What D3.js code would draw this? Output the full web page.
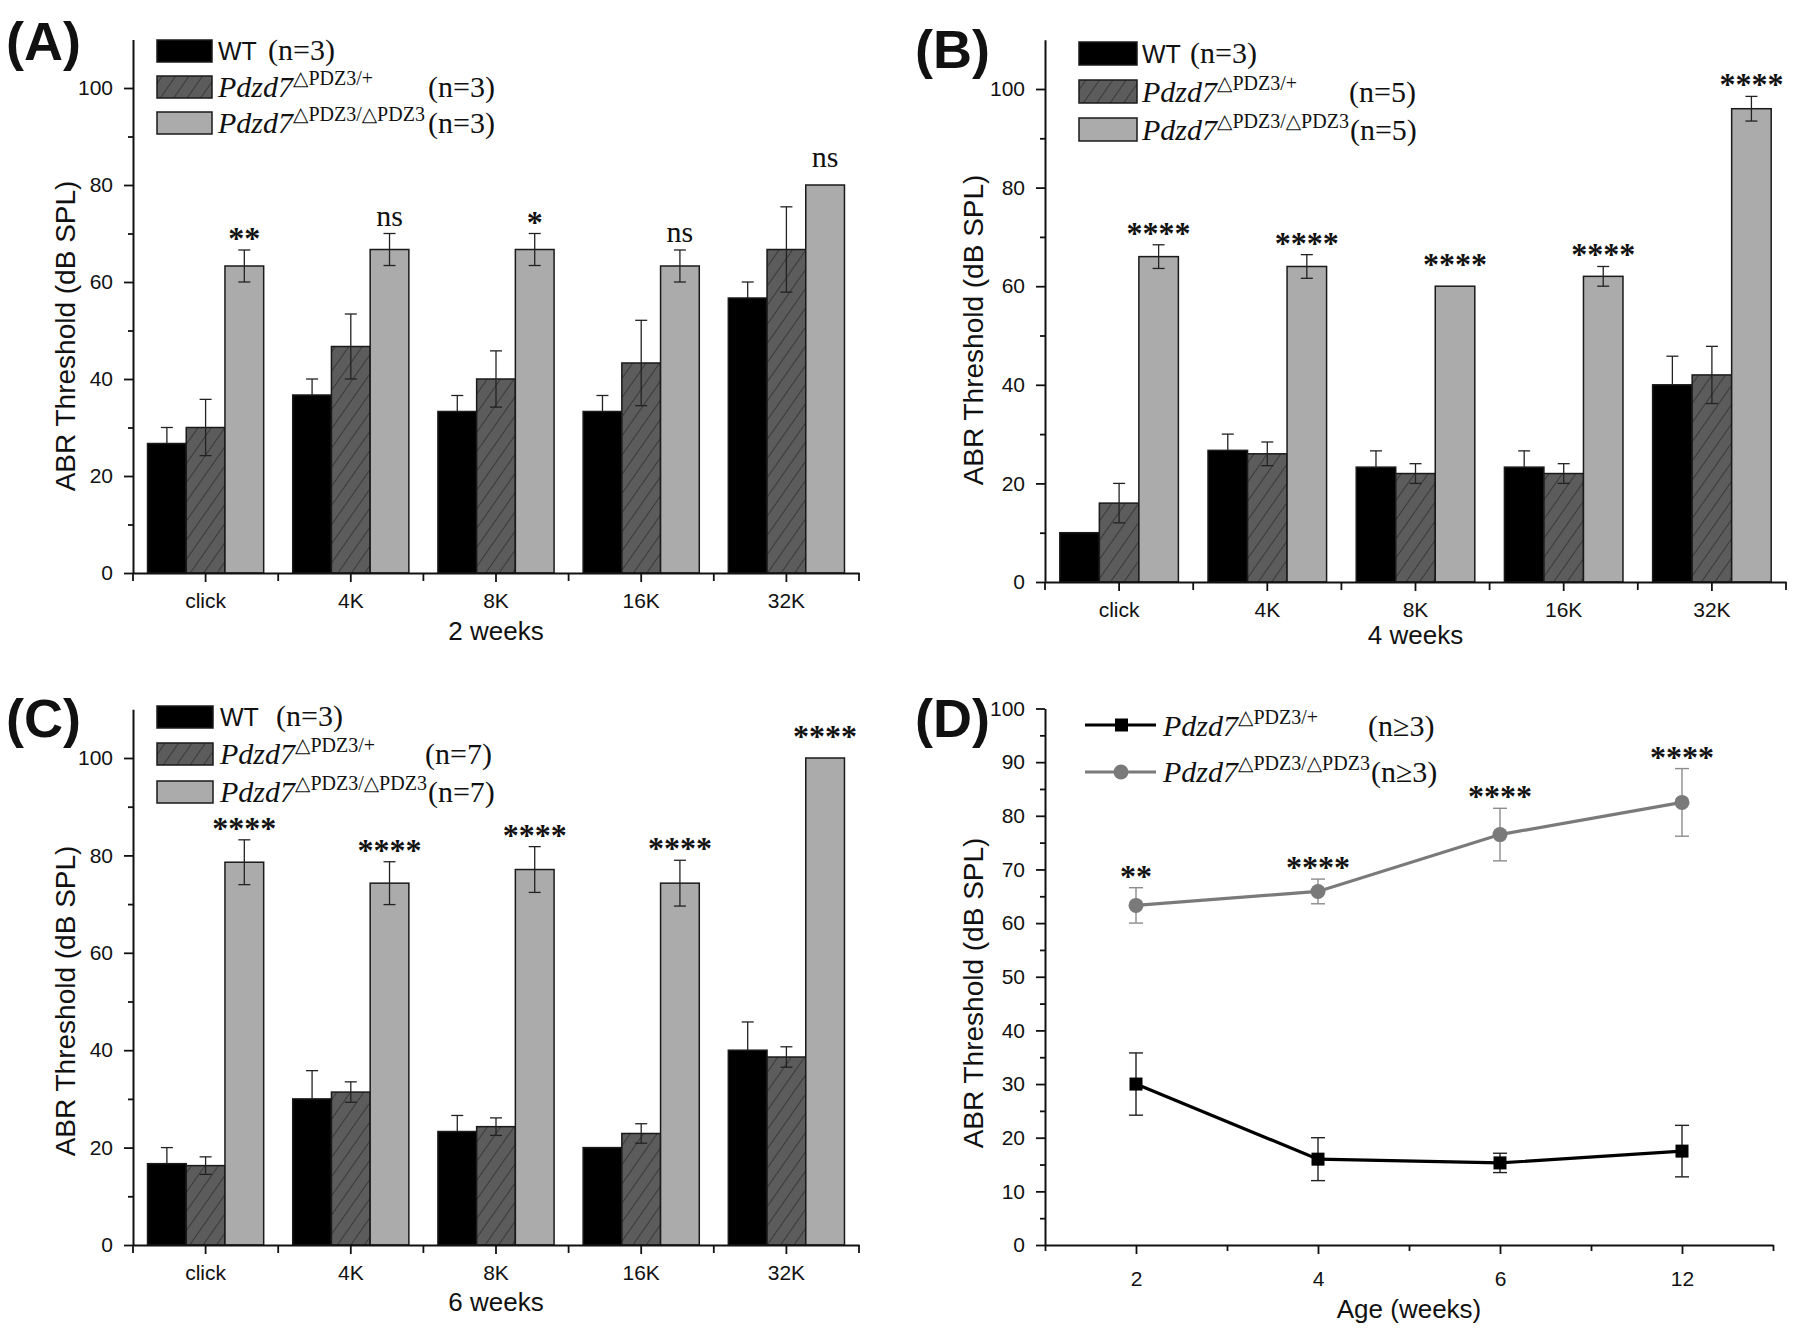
<!DOCTYPE html>
<html><head><meta charset="utf-8">
<script src="https://cdn.jsdelivr.net/npm/d3@7"></script>
<style>body{margin:0;background:#fff}svg{display:block}</style>
</head><body>
<svg id="chart" width="1800" height="1338"></svg>
<script>
// ---------- DATA ----------
const categories = ["click", "4K", "8K", "16K", "32K"];
const groups = ["wt", "het", "hom"];

// (A) 2 weeks
const wtA = [26.7, 36.7, 33.3, 33.3, 56.7];
const wtErrA = [3.3, 3.3, 3.3, 3.3, 3.3];
const hetA = [30.0, 46.7, 40.0, 43.3, 66.7];
const hetErrA = [5.8, 6.7, 5.8, 8.8, 8.8];
const homA = [63.3, 66.7, 66.7, 63.3, 80.0];
const homErrA = [3.3, 3.3, 3.3, 3.3, 0];
const sigA = ["**", "ns", "*", "ns", "ns"];

// (B) 4 weeks
const wtB = [10.0, 26.7, 23.3, 23.3, 40.0];
const wtErrB = [0, 3.3, 3.3, 3.3, 5.8];
const hetB = [16.0, 26.0, 22.0, 22.0, 42.0];
const hetErrB = [4.0, 2.4, 2.0, 2.0, 5.8];
const homB = [66.0, 64.0, 60.0, 62.0, 96.0];
const homErrB = [2.4, 2.4, 0, 2.0, 2.5];
const sigB = ["****", "****", "****", "****", "****"];

// (C) 6 weeks
const wtC = [16.7, 30.0, 23.3, 20.0, 40.0];
const wtErrC = [3.3, 5.8, 3.3, 0, 5.8];
const hetC = [16.3, 31.4, 24.3, 22.9, 38.6];
const hetErrC = [1.8, 2.1, 1.8, 2.0, 2.1];
const homC = [78.6, 74.3, 77.1, 74.3, 100.0];
const homErrC = [4.6, 4.4, 4.7, 4.7, 0];
const sigC = ["****", "****", "****", "****", "****"];

// (D) age course
const ages = ["2", "4", "6", "12"];
const hetD = [30.0, 16.0, 15.3, 17.5];
const hetErrD = [5.8, 4.0, 1.8, 4.8];
const homD = [63.3, 65.9, 76.5, 82.5];
const homErrD = [3.3, 2.3, 4.9, 6.3];
const sigD = ["**", "****", "****", "****"];

const barTicks = [0, 20, 40, 60, 80, 100];
const barMinorTicks = [10, 30, 50, 70, 90];
const lineTicks = [0, 10, 20, 30, 40, 50, 60, 70, 80, 90, 100];
const lineMinorTicks = [5, 15, 25, 35, 45, 55, 65, 75, 85, 95];

// ---------- STYLE ----------
const SANS = "'Liberation Sans', Arial, Helvetica, sans-serif";
const SERIF = "'Liberation Serif', 'Times New Roman', 'DejaVu Serif', serif";
const INK = "#111";
const GREY = "#ababab";
const svg = d3.select("#chart");

const defs = svg.append("defs");
const pat = defs.append("pattern").attr("id", "hatch")
  .attr("patternUnits", "userSpaceOnUse").attr("width", 11).attr("height", 11)
  .attr("patternTransform", "rotate(35)");
pat.append("rect").attr("width", 11).attr("height", 11).attr("fill", "#5c5c5c");
pat.append("line").attr("x1", 0).attr("y1", 0).attr("x2", 0).attr("y2", 11)
  .attr("stroke", "#262626").attr("stroke-width", 1.3);

const fills = { wt: "#000", het: "url(#hatch)", hom: GREY };

function styleAxis(g) {
  g.select(".domain").attr("stroke", INK).attr("stroke-width", 2);
  g.selectAll(".tick line").attr("stroke", INK).attr("stroke-width", 1.8);
  g.selectAll(".tick text").attr("fill", INK).attr("font-family", SANS).attr("font-size", 21);
}

function genotype(sel, x, y, sup, nText, nX) {
  const t = sel.append("text").attr("x", x).attr("y", y).attr("fill", INK)
    .attr("font-family", SERIF).attr("font-size", 30).attr("font-style", "italic").text("Pdzd7");
  t.append("tspan").attr("font-style", "normal").attr("font-size", 20).attr("dy", -12).text(sup);
  const end = x + t.node().getComputedTextLength();
  sel.append("text").attr("x", Math.max(nX, end + 1)).attr("y", y).attr("fill", INK)
    .attr("font-family", SERIF).attr("font-size", 30).text(nText);
}

function panelLabel(txt, x, y) {
  svg.append("text").attr("x", x).attr("y", y).attr("font-family", SANS)
    .attr("font-weight", "bold").attr("font-size", 54).attr("fill", INK).text(txt);
}

function yTitle(x, y) {
  svg.append("text").attr("transform", `translate(${x},${y}) rotate(-90)`)
    .attr("text-anchor", "middle").attr("dy", "0.35em")
    .attr("font-family", SANS).attr("font-size", 28).attr("fill", INK)
    .text("ABR Threshold (dB SPL)");
}

function errBar(g, cx, yTop, yBot, w, color, sw, lower) {
  g.append("line").attr("x1", cx).attr("x2", cx).attr("y1", yTop).attr("y2", lower ? yBot : (yTop + yBot) / 2)
    .attr("stroke", color).attr("stroke-width", sw);
  (lower ? [yTop, yBot] : [yTop]).forEach(yy => g.append("line").attr("x1", cx - w / 2).attr("x2", cx + w / 2)
    .attr("y1", yy).attr("y2", yy).attr("stroke", color).attr("stroke-width", sw));
}

function barPanel(c) {
  const x = d3.scaleBand().domain(categories).range([c.x0, c.x1]).paddingInner(0.2).paddingOuter(0.1);
  const xs = d3.scaleBand().domain(groups).range([0, x.bandwidth()]);
  const y = d3.scaleLinear().domain([0, 110]).range([c.y0, c.y0 - 1.1 * (c.y0 - c.y100)]);
  const g = svg.append("g");
  const series = { wt: [c.wt, c.wtErr], het: [c.het, c.hetErr], hom: [c.hom, c.homErr] };

  categories.forEach((cat, i) => {
    groups.forEach(gr => {
      const v = series[gr][0][i];
      g.append("rect").attr("x", x(cat) + xs(gr)).attr("width", xs.bandwidth())
        .attr("y", y(v)).attr("height", y(0) - y(v))
        .attr("fill", fills[gr]).attr("stroke", "#1a1a1a").attr("stroke-width", 1.5);
    });
  });
  categories.forEach((cat, i) => {
    groups.forEach(gr => {
      const v = series[gr][0][i], e = series[gr][1][i];
      if (e > 0) errBar(g, x(cat) + xs(gr) + xs.bandwidth() / 2, y(v + e), y(v - e), 12, "#222", 1.3, gr !== "wt");
    });
    const top = y(c.hom[i] + c.homErr[i]);
    const s = c.sig[i];
    const gap = (s === "ns" ? 8 : 1) + (c.homErr[i] === 0 ? 10 : 0);
    g.append("text").attr("x", x(cat) + xs("hom") + xs.bandwidth() / 2).attr("y", top - gap)
      .attr("text-anchor", "middle").attr("font-family", SERIF).attr("font-size", s === "ns" ? 30 : 32)
      .attr("font-weight", s === "ns" ? "normal" : "bold").attr("fill", INK).text(s);
  });

  // axes
  const ya = g.append("g").attr("transform", `translate(${c.x0},0)`)
    .call(d3.axisLeft(y).tickValues(barTicks).tickSize(9).tickSizeOuter(0).tickPadding(11));
  styleAxis(ya);
  const ym = g.append("g").attr("transform", `translate(${c.x0},0)`)
    .call(d3.axisLeft(y).tickValues(barMinorTicks).tickSize(5).tickFormat(""));
  ym.select(".domain").remove(); styleAxis(ym);
  const xa = g.append("g").attr("transform", `translate(0,${c.y0})`)
    .call(d3.axisBottom(x).tickSize(9).tickSizeOuter(0).tickPadding(11));
  styleAxis(xa);
  d3.range(categories.length + 1).forEach(k => {
    const bx = c.x0 + k * x.step();
    g.append("line").attr("x1", bx).attr("x2", bx).attr("y1", c.y0).attr("y2", c.y0 + 8)
      .attr("stroke", INK).attr("stroke-width", 1.8);
  });
  g.append("text").attr("x", (c.x0 + c.x1) / 2).attr("y", c.titleY).attr("text-anchor", "middle")
    .attr("font-family", SANS).attr("font-size", 26).attr("fill", INK).text(c.title);

  // legend
  const L = c.leg;
  const lg = svg.append("g");
  ["wt", "het", "hom"].forEach((gr, k) => {
    lg.append("rect").attr("x", L.x).attr("y", L.tops[k]).attr("width", L.w).attr("height", L.h)
      .attr("fill", fills[gr]).attr("stroke", "#1a1a1a").attr("stroke-width", 1.5);
  });
  const b0 = L.tops[0] + L.h - 2;
  lg.append("text").attr("x", L.tx).attr("y", b0).attr("font-family", SANS).attr("font-size", 25)
    .attr("fill", INK).text("WT");
  lg.append("text").attr("x", L.n1x).attr("y", b0).attr("font-family", SERIF).attr("font-size", 30)
    .attr("fill", INK).text(L.n[0]);
  genotype(lg, L.tx, L.tops[1] + L.h - 1, "\u25B3PDZ3/+", L.n[1], L.nx);
  genotype(lg, L.tx, L.tops[2] + L.h - 1, "\u25B3PDZ3/\u25B3PDZ3", L.n[2], L.nx);
}

barPanel({ x0: 133, x1: 859, y0: 573, y100: 88, wt: wtA, wtErr: wtErrA, het: hetA, hetErr: hetErrA,
  hom: homA, homErr: homErrA, sig: sigA, title: "2 weeks", titleY: 640,
  leg: { x: 157, w: 55, h: 22, tops: [40, 76, 112], tx: 218, n1x: 268, nx: 428, n: ["(n=3)", "(n=3)", "(n=3)"] } });
barPanel({ x0: 1045, x1: 1786, y0: 582, y100: 89, wt: wtB, wtErr: wtErrB, het: hetB, hetErr: hetErrB,
  hom: homB, homErr: homErrB, sig: sigB, title: "4 weeks", titleY: 644,
  leg: { x: 1079, w: 58, h: 23, tops: [42, 80, 118], tx: 1142, n1x: 1190, nx: 1349, n: ["(n=3)", "(n=5)", "(n=5)"] } });
barPanel({ x0: 133, x1: 859, y0: 1245, y100: 758, wt: wtC, wtErr: wtErrC, het: hetC, hetErr: hetErrC,
  hom: homC, homErr: homErrC, sig: sigC, title: "6 weeks", titleY: 1311,
  leg: { x: 157, w: 56, h: 22, tops: [706, 743, 781], tx: 220, n1x: 276, nx: 425, n: ["(n=3)", "(n=7)", "(n=7)"] } });

// ---------- (D) line panel ----------
(function () {
  const x0 = 1045, x1 = 1773, y0 = 1245, y100 = 708.5;
  const x = d3.scaleLinear().domain([0.5, ages.length + 0.5]).range([x0, x1]);
  const y = d3.scaleLinear().domain([0, 100]).range([y0, y100]);
  const g = svg.append("g");
  const idx = ages.map((a, i) => i + 1);

  const ya = g.append("g").attr("transform", `translate(${x0},0)`)
    .call(d3.axisLeft(y).tickValues(lineTicks).tickSize(9).tickSizeOuter(0).tickPadding(11));
  styleAxis(ya);
  const ym = g.append("g").attr("transform", `translate(${x0},0)`)
    .call(d3.axisLeft(y).tickValues(lineMinorTicks).tickSize(5).tickFormat(""));
  ym.select(".domain").remove(); styleAxis(ym);
  const xa = g.append("g").attr("transform", `translate(0,${y0})`)
    .call(d3.axisBottom(x).tickValues(idx).tickSize(9).tickSizeOuter(0).tickPadding(17)
      .tickFormat(d => ages[d - 1]));
  styleAxis(xa);
  const xm = g.append("g").attr("transform", `translate(0,${y0})`)
    .call(d3.axisBottom(x).tickValues(idx.map(d => d - 0.5).concat([ages.length + 0.5])).tickSize(6).tickFormat(""));
  xm.select(".domain").remove(); styleAxis(xm);

  const line = d3.line().x((d, i) => x(i + 1)).y(d => y(d));
  // het (black squares)
  g.append("path").datum(hetD).attr("d", line).attr("fill", "none").attr("stroke", "#000").attr("stroke-width", 3.2);
  hetD.forEach((v, i) => errBar(g, x(i + 1), y(v + hetErrD[i]), y(v - hetErrD[i]), 14, "#222", 1.4, true));
  hetD.forEach((v, i) => g.append("rect").attr("x", x(i + 1) - 6.5).attr("y", y(v) - 6.5)
    .attr("width", 13).attr("height", 13).attr("fill", "#000"));
  // hom (grey circles)
  g.append("path").datum(homD).attr("d", line).attr("fill", "none").attr("stroke", "#7a7a7a").attr("stroke-width", 3.2);
  homD.forEach((v, i) => errBar(g, x(i + 1), y(v + homErrD[i]), y(v - homErrD[i]), 14, "#8c8c8c", 1.4, true));
  homD.forEach((v, i) => g.append("circle").attr("cx", x(i + 1)).attr("cy", y(v)).attr("r", 7.5).attr("fill", "#7a7a7a"));
  sigD.forEach((s, i) => g.append("text").attr("x", x(i + 1)).attr("y", y(homD[i] + homErrD[i]) - 1)
    .attr("text-anchor", "middle").attr("font-family", SERIF).attr("font-size", 32)
    .attr("font-weight", "bold").attr("fill", INK).text(s));

  g.append("text").attr("x", (x0 + x1) / 2).attr("y", 1318).attr("text-anchor", "middle")
    .attr("font-family", SANS).attr("font-size", 26).attr("fill", INK).text("Age (weeks)");

  // legend
  const lg = svg.append("g");
  [[725, "#000", "sq"], [772, "#7a7a7a", "ci"]].forEach(([ly, col, m]) => {
    lg.append("line").attr("x1", 1085).attr("x2", 1156).attr("y1", ly).attr("y2", ly)
      .attr("stroke", col).attr("stroke-width", 3);
    if (m === "sq") lg.append("rect").attr("x", 1115).attr("y", ly - 6.5).attr("width", 13).attr("height", 13).attr("fill", col);
    else lg.append("circle").attr("cx", 1121).attr("cy", ly).attr("r", 7.5).attr("fill", col);
  });
  genotype(lg, 1163, 736, "\u25B3PDZ3/+", "(n\u22653)", 1368);
  genotype(lg, 1163, 782, "\u25B3PDZ3/\u25B3PDZ3", "(n\u22653)", 1368);
})();

yTitle(65, 336);
yTitle(973, 330);
yTitle(65, 1001);
yTitle(973, 993);

panelLabel("(A)", 6, 60);
panelLabel("(B)", 915, 68);
panelLabel("(C)", 6, 737);
panelLabel("(D)", 915, 737);
</script>
</body></html>
